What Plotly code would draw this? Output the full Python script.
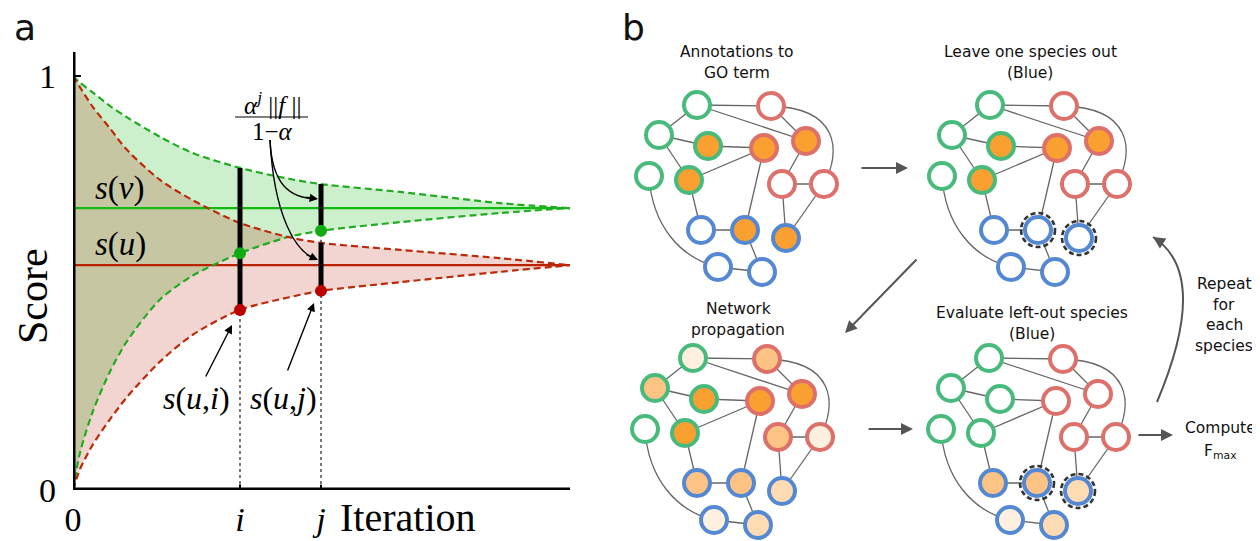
import plotly.graph_objects as go

# The page body has an 8px margin, so the figure is laid out in page pixels 8..1260 / 8..541.
OFF = 8
PAGE_W, PAGE_H = 1260, 541
W, H = PAGE_W - OFF, PAGE_H - OFF

# ---------------- Panel a data (score vs iteration) ----------------
iteration = [0, 0.14, 0.4, 0.74, 1.09, 1.75, 2.41, 3.36, 4.33, 4.99, 6.58, 8.59, 10]
v_upper = [1.0, 0.984, 0.960, 0.928, 0.900, 0.853, 0.814, 0.778, 0.752, 0.739, 0.720, 0.693, 0.681]
u_upper = [1.0, 0.973, 0.925, 0.874, 0.821, 0.749, 0.700, 0.645, 0.611, 0.597, 0.580, 0.560, 0.543]
v_lower = [0.0, 0.090, 0.190, 0.285, 0.360, 0.460, 0.518, 0.572, 0.611, 0.626, 0.647, 0.669, 0.681]
u_lower = [0.0, 0.050, 0.110, 0.170, 0.225, 0.310, 0.375, 0.435, 0.465, 0.481, 0.502, 0.527, 0.543]
s_v = 0.681
s_u = 0.543
i_idx, j_idx = 7, 9
overlap_end = 9          # samples up to the crossing of u_upper and v_lower
x_tick_text = ["0", "<i>i</i>", "<i>j</i>"]
y_tick_vals = [0, 1]
y_tick_text = ["0", "1"]

# ---------------- Panel b data (networks) ----------------
node_x = [697, 771, 659, 708, 764, 806, 649, 689, 782, 824, 701, 745, 786, 718, 762]
node_y = [105, 106, 135, 146, 148, 141, 176, 180, 184, 184, 230, 230, 238, 267, 272]
node_species = ["G", "R", "G", "G", "R", "R", "G", "G", "R", "R", "B", "B", "B", "B", "B"]
edges = [(0, 1), (0, 2), (0, 5), (1, 5), (2, 3), (2, 7), (3, 4), (4, 7), (4, 11), (5, 8),
         (8, 9), (8, 12), (9, 12), (7, 10), (10, 11), (11, 14), (13, 14)]
curved_edges = [(1, 9, (838, 108), (842, 150)), (6, 13, (652, 225), (680, 258))]
network_offsets = [(0, 0), (293, 0), (-4, 253), (292, 253)]
score_levels = [
    [0, 0, 0, 4, 4, 4, 0, 4, 0, 0, 0, 4, 4, 0, 0],
    [0, 0, 0, 4, 4, 4, 0, 4, 0, 0, 0, 0, 0, 0, 0],
    [1, 3, 3, 4, 4, 4, 0, 4, 3, 1, 3, 3, 2, 1, 2],
    [0, 0, 0, 0, 0, 0, 0, 0, 0, 0, 3, 3, 2, 1, 2],
]
held_out = [[], [11, 12], [], [11, 12]]
network_titles = [["Annotations to", "GO term"], ["Leave one species out", "(Blue)"],
                  ["Network", "propagation"], ["Evaluate left-out species", "(Blue)"]]
repeat_lines = ["Repeat", "for", "each", "species"]
compute_lines = ["Compute", "F<sub>max</sub>"]

species_color = {"G": "#48bb7c", "R": "#de706b", "B": "#5588d3"}
level_color = ["#ffffff", "#fdf0de", "#fddcb4", "#fcc384", "#f9a030"]

SERIF = "Liberation Serif"
SANS = "DejaVu Sans"

fig = go.Figure()

def sc(**kw):
    kw.setdefault("hoverinfo", "skip")
    kw.setdefault("showlegend", False)
    fig.add_trace(go.Scatter(**kw))

SPL = dict(shape="spline", smoothing=0.8)

# bands
sc(x=iteration, y=v_lower, mode="lines", line=dict(width=0, **SPL))
sc(x=iteration, y=v_upper, mode="lines", line=dict(width=0, **SPL), fill="tonexty", fillcolor="#ccf0cc")
sc(x=iteration, y=u_lower, mode="lines", line=dict(width=0, **SPL))
sc(x=iteration, y=u_upper, mode="lines", line=dict(width=0, **SPL), fill="tonexty", fillcolor="#f2d4d0")
sc(x=iteration[:overlap_end], y=v_lower[:overlap_end], mode="lines", line=dict(width=0, **SPL))
sc(x=iteration[:overlap_end], y=u_upper[:overlap_end], mode="lines", line=dict(width=0, **SPL),
   fill="tonexty", fillcolor="#c6c7a2")

# limit lines
sc(x=[iteration[0], iteration[-1]], y=[s_v, s_v], mode="lines", line=dict(color="#11bb11", width=2.2))
sc(x=[iteration[0], iteration[-1]], y=[s_u, s_u], mode="lines", line=dict(color="#bb2200", width=2.2))

# dashed bounds
for ys, col in [(v_upper, "#22aa22"), (v_lower, "#22aa22"), (u_upper, "#bb2a0a"), (u_lower, "#bb2a0a")]:
    sc(x=iteration, y=ys, mode="lines", line=dict(color=col, width=2.2, dash="7px,4px", **SPL))

xi, xj = iteration[i_idx], iteration[j_idx]
# dotted guides
for x0, y0, y1 in [(xi, 0, u_lower[i_idx]), (xj, 0, u_lower[j_idx]), (xj, u_upper[j_idx], v_lower[j_idx])]:
    sc(x=[x0, x0], y=[y0, y1], mode="lines", line=dict(color="#222222", width=1.2, dash="dot"))
# error bars
for x0, y0, y1 in [(xi, u_lower[i_idx], v_upper[i_idx]), (xj, v_lower[j_idx], v_upper[j_idx]),
                   (xj, u_lower[j_idx], u_upper[j_idx])]:
    sc(x=[x0, x0], y=[y0, y1], mode="lines", line=dict(color="black", width=5))
# dots
sc(x=[xi, xj], y=[v_lower[i_idx], v_lower[j_idx]], mode="markers", marker=dict(color="#11aa11", size=12))
sc(x=[xi, xj], y=[u_lower[i_idx], u_lower[j_idx]], mode="markers", marker=dict(color="#bb0000", size=12))

shapes = []
ymax = 1.058
shapes.append(dict(type="line", xref="x", yref="y", x0=0, x1=0, y0=0, y1=ymax, line=dict(color="black", width=5)))
shapes.append(dict(type="line", xref="x", yref="y", x0=0, x1=iteration[-1], y0=0, y1=0, line=dict(color="black", width=5)))
shapes.append(dict(type="line", xref="x", yref="y", x0=-0.16, x1=0.16, y0=1, y1=1, line=dict(color="black", width=2)))
for xt in (xi, xj):
    shapes.append(dict(type="line", xref="x", yref="y", x0=xt, x1=xt, y0=-0.017, y1=0.013, line=dict(color="black", width=2)))

# ---------------- Panel b ----------------
ex, ey = [], []
for (dx, dy) in network_offsets:
    for a, b in edges:
        ex += [node_x[a] + dx, node_x[b] + dx, None]
        ey += [node_y[a] + dy, node_y[b] + dy, None]
sc(x=ex, y=ey, mode="lines", line=dict(color="#666666", width=1.3), xaxis="x2", yaxis="y2")

for n, (dx, dy) in enumerate(network_offsets):
    for a, b, c1, c2 in curved_edges:
        path = (f"M {node_x[a]+dx},{node_y[a]+dy} C {c1[0]+dx},{c1[1]+dy} "
                f"{c2[0]+dx},{c2[1]+dy} {node_x[b]+dx},{node_y[b]+dy}")
        shapes.append(dict(type="path", xref="x2", yref="y2", path=path, layer="below",
                           line=dict(color="#666666", width=1.3)))
    sc(x=[x + dx for x in node_x], y=[y + dy for y in node_y], mode="markers",
       marker=dict(size=26, color=[level_color[l] for l in score_levels[n]],
                   line=dict(width=4, color=[species_color[s] for s in node_species])),
       xaxis="x2", yaxis="y2")
    for k in held_out[n]:
        cx, cy = node_x[k] + dx, node_y[k] + dy
        shapes.append(dict(type="circle", xref="x2", yref="y2", x0=cx - 17, x1=cx + 17, y0=cy - 17, y1=cy + 17,
                           line=dict(color="#333333", width=2.6, dash="5px,3px")))

# curved arrows (panel a annotation links & repeat arrow)
for path in ["M 270,140 C 272,185 290,198 316,199", "M 270,140 C 274,215 295,252 316,259",
             "M 1157,402 Q 1211,274 1153,237"]:
    lw, col = (1.4, "black") if "270" in path else (2, "#555555")
    shapes.append(dict(type="path", xref="x2", yref="y2", path=path, line=dict(color=col, width=lw)))
# fraction bar
shapes.append(dict(type="line", xref="x2", yref="y2", x0=235, x1=308, y0=117, y1=117, line=dict(color="black", width=1.2)))

ann = []
def txt(x, y, t, size, family=SANS, color="#111111", yanchor="middle", **kw):
    ann.append(dict(x=x, y=y, xref="x2", yref="y2", text=t, showarrow=False,
                    font=dict(size=size, family=family, color=color), xanchor="center", yanchor=yanchor, **kw))

# panel letters
txt(25, 27, "a", 36)
txt(633, 27, "b", 36)
# panel a labels
txt(33, 296, "Score", 42, SERIF, "black", textangle=-90)
txt(408, 541, "Iteration", 40, SERIF, "black", yanchor="bottom", borderpad=0)
txt(120, 188, "<i>s</i>(<i>v</i>)", 33, SERIF, "black")
txt(120, 244, "<i>s</i>(<i>u</i>)", 33, SERIF, "black")
txt(196, 398, "<i>s</i>(<i>u</i>,<i>i</i>)", 32, SERIF, "black")
txt(283, 398, "<i>s</i>(<i>u</i>,<i>j</i>)", 32, SERIF, "black")
txt(272, 103, "<i>α</i><sup><i>j</i></sup> ||<i>f</i> ||", 25, SERIF, "black")
txt(272, 131, "1−<i>α</i>", 25, SERIF, "black")

# panel b texts
title_centers = [(737, 52), (1030, 52), (738, 309), (1032, 313)]
for (cx, cy), lines in zip(title_centers, network_titles):
    for li, line in enumerate(lines):
        txt(cx, cy + 21 * li, line, 15.5)
for li, line in enumerate(repeat_lines):
    txt(1224, 284 + 20.5 * li, line, 15.5)
for li, line in enumerate(compute_lines):
    txt(1220, 428 + 24 * li, line, 15.5)

def arrow(x0, y0, x1, y1, color="#555555", width=2, size=1.2, head=2):
    ann.append(dict(x=x1, y=y1, ax=x0, ay=y0, xref="x2", yref="y2", axref="x2", ayref="y2", text="",
                    showarrow=True, arrowhead=head, arrowsize=size, arrowwidth=width, arrowcolor=color))

arrow(860, 168, 908, 168)
arrow(918, 258, 845, 333)
arrow(867, 429, 913, 429)
arrow(1137, 435, 1173, 435)
arrow(1164, 244, 1153, 237)
arrow(205, 378, 232, 325, color="black", width=1.4, size=1.2)
arrow(287, 372, 314, 303, color="black", width=1.4, size=1.2)
arrow(304, 197, 318, 199, color="black", width=1.4, size=1.2)
arrow(305, 254, 318, 260, color="black", width=1.4, size=1.2)

def px_x(p):
    return (p - OFF) / W

def px_y(p):
    return (PAGE_H - p) / H

fig.update_layout(
    width=W, height=H, margin=dict(l=0, r=0, t=0, b=0, pad=0), autosize=False,
    paper_bgcolor="white", plot_bgcolor="rgba(0,0,0,0)",
    shapes=shapes, annotations=ann, showlegend=False,
    xaxis=dict(domain=[px_x(73), px_x(573)], range=[0, 10.06], showgrid=False, zeroline=False, showline=False,
               tickvals=[0, xi, xj], ticktext=x_tick_text, ticks="", ticklabelstandoff=6, automargin=False,
               tickfont=dict(family=SERIF, size=34, color="black"), anchor="y", fixedrange=True),
    yaxis=dict(domain=[px_y(490), px_y(52)], range=[0, ymax], showgrid=False, zeroline=False, showline=False,
               tickvals=y_tick_vals, ticktext=y_tick_text, ticks="", ticklabelstandoff=16, automargin=False,
               tickfont=dict(family=SERIF, size=34, color="black"), anchor="x", fixedrange=True),
    xaxis2=dict(domain=[0, 1], range=[OFF, PAGE_W], visible=False, anchor="y2", fixedrange=True, automargin=False),
    yaxis2=dict(domain=[0, 1], range=[PAGE_H, OFF], visible=False, anchor="x2", fixedrange=True, automargin=False),
)

fig.write_html("out.html")
